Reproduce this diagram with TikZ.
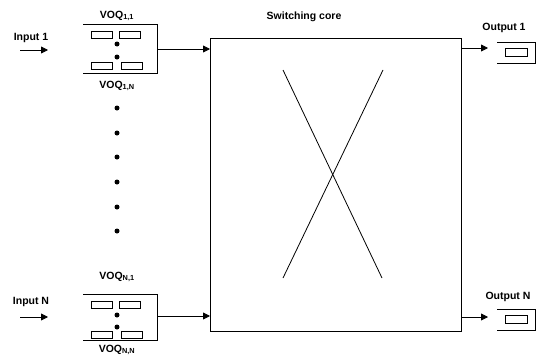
\documentclass[tikz,border=0pt]{standalone}
\usepackage{fontspec}
\setmainfont{Liberation Sans}
\usetikzlibrary{arrows.meta}
\tikzset{
  lbl/.style={font=\bfseries\fontsize{10.5}{12}\selectfont, inner sep=0pt},
  cell/.style={draw, line width=0.7pt, minimum width=21pt, minimum height=7pt, inner sep=0pt},
  qdot/.style={circle, fill, inner sep=0pt, minimum size=5pt},
  conn/.style={-{Triangle[length=7pt,width=7pt]}},
}
\begin{document}
\begin{tikzpicture}[x=1pt,y=-1pt,line width=0.8pt]
  \useasboundingbox (0,0) rectangle (536,356);
  % Switching core
  \node[draw, anchor=north west, inner sep=0pt, minimum width=251pt, minimum height=293pt] (core) at (210,38) {};
  \node[lbl] (corelbl) at (304,17) {Switching core};
  \draw (283,70) -- (382,278);
  \draw (383,70) -- (283,278);
  % Input 1
  \node[lbl] (in1) at (31,38) {Input 1};
  \coordinate (in1a) at (20,50);
  \coordinate (in1b) at (48,50);
  \draw[conn] (in1a) -- (in1b);
  \draw (83,24) -- (157,24) -- (157,73) -- (83,73);
  \node[cell] (c11) at (101.5,35) {};
  \node[cell] (c12) at (129.5,35) {};
  \node[cell] (c13) at (102,65.5) {};
  \node[cell] (c14) at (131.5,65.5) {};
  \node[qdot] at (117,44) {};
  \node[qdot] at (117,57) {};
  \node[lbl] (voq11) at (117,16) {VOQ\textsubscript{1,1}};
  \node[lbl] (voq1n) at (117,86) {VOQ\textsubscript{1,N}};
  \coordinate (q1) at (157,49);
  \draw[conn] (q1) -- (q1 -| core.west);
  % Dots
  \foreach \y in {108,133,157,182,207,231}
    \node[qdot] at (117,\y) {};
  % Input N
  \node[lbl] (inN) at (31,302) {Input N};
  \coordinate (inNa) at (20,317);
  \coordinate (inNb) at (48,317);
  \draw[conn] (inNa) -- (inNb);
  \draw (83,294) -- (157,294) -- (157,340) -- (83,340);
  \node[cell] (cN1) at (101.5,304.5) {};
  \node[cell] (cN2) at (129.5,304.5) {};
  \node[cell] (cN3) at (102,335) {};
  \node[cell] (cN4) at (131.5,335) {};
  \node[qdot] at (117,315) {};
  \node[qdot] at (117,327) {};
  \node[lbl] (voqn1) at (117,277) {VOQ\textsubscript{N,1}};
  \node[lbl] (voqnn) at (117,350) {VOQ\textsubscript{N,N}};
  \coordinate (qN) at (157,316);
  \draw[conn] (qN) -- (qN -| core.west);
  % Output 1
  \node[lbl] (out1) at (504,28) {Output 1};
  \coordinate (o1) at (488,48);
  \draw[conn] (o1 -| core.east) -- (o1);
  \draw (497,42) -- (535,42) -- (535,63) -- (497,63);
  \node[cell, minimum width=22pt, minimum height=8pt] (co1) at (516,52.5) {};
  % Output N
  \node[lbl] (outN) at (508,297) {Output N};
  \coordinate (oN) at (488,317);
  \draw[conn] (oN -| core.east) -- (oN);
  \draw (497,309) -- (535,309) -- (535,330) -- (497,330);
  \node[cell, minimum width=22pt, minimum height=8pt] (coN) at (516,319) {};
\end{tikzpicture}
\end{document}
